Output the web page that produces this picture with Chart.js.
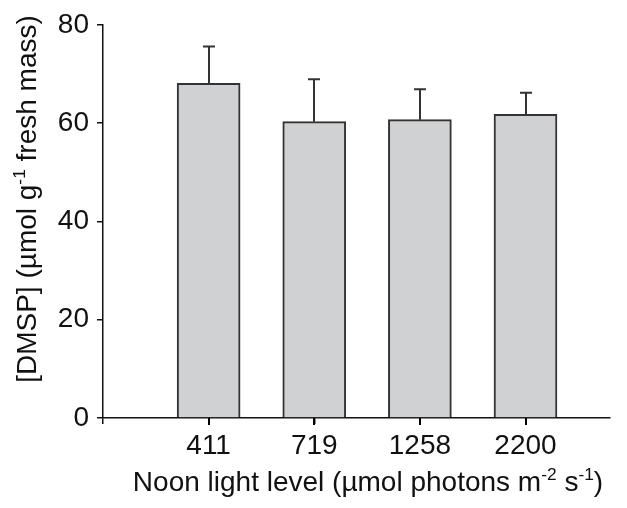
<!DOCTYPE html>
<html>
<head>
<meta charset="utf-8">
<script src="https://cdn.jsdelivr.net/npm/chart.js@4"></script>
<style>
  body { margin: 0; background: #fff; }
  canvas { display: block; }
</style>
</head>
<body>
<canvas id="cv" width="627" height="508"></canvas>
<script>
// data
const positions = [1, 2, 3, 4];
const categories = ["411", "719", "1258", "2200"];
const dmsp = [68.1, 60.3, 60.7, 61.8];
const sd = [7.5, 8.6, 6.2, 4.4];
const yTicks = [0, 20, 40, 60, 80];

// axis titles (sup = superscript part)
const xTitle = [{t: "Noon light level (µmol photons m"}, {t: "-2", sup: true}, {t: " s"}, {t: "-1", sup: true}, {t: ")"}];
const yTitle = [{t: "[DMSP] (µmol g"}, {t: "-1", sup: true}, {t: " fresh mass)"}];

const FONT = "'Liberation Sans', Arial, sans-serif";

//text mit hochgestellten teilen zeichnen
function richText(ctx, parts, size) {
    let w = 0;
    parts.forEach((p) => {
        ctx.font = (p.sup ? size * 0.62 : size) + "px " + FONT;
        w += ctx.measureText(p.t).width;
    });
    let x = -w / 2;
    parts.forEach((p) => {
        ctx.font = (p.sup ? size * 0.62 : size) + "px " + FONT;
        ctx.fillText(p.t, x, p.sup ? -size * 0.4 : 0);
        x += ctx.measureText(p.t).width;
    });
}

const extras = {
    id: "extras",
    afterDraw(chart) {
        let ctx = chart.ctx;
        let xs = chart.scales.x, ys = chart.scales.y;
        ctx.save();
        // error bars (only upwards)
        ctx.strokeStyle = "#333";
        ctx.lineWidth = 2;
        positions.forEach((p, i) => {
            let px = Math.round(xs.getPixelForValue(p));
            let y0 = ys.getPixelForValue(dmsp[i]);
            let y1 = ys.getPixelForValue(dmsp[i] + sd[i]);
            ctx.beginPath();
            ctx.moveTo(px, y0);
            ctx.lineTo(px, y1);
            ctx.moveTo(px - 6, y1);
            ctx.lineTo(px + 6, y1);
            ctx.stroke();
        });
        // x tick marks
        ctx.strokeStyle = "#000";
        ctx.lineWidth = 2;
        positions.forEach((p) => {
            let px = Math.round(xs.getPixelForValue(p));
            ctx.beginPath();
            ctx.moveTo(px, chart.chartArea.bottom);
            ctx.lineTo(px, chart.chartArea.bottom + 7);
            ctx.stroke();
        });
        // titles
        ctx.fillStyle = "#111";
        ctx.textBaseline = "alphabetic";
        ctx.textAlign = "left";
        ctx.save();
        ctx.translate(368, 491);
        richText(ctx, xTitle, 28);
        ctx.restore();
        ctx.save();
        ctx.translate(36, 199);
        ctx.rotate(-Math.PI / 2);
        richText(ctx, yTitle, 28);
        ctx.restore();
        ctx.restore();
    }
};

new Chart(document.getElementById("cv").getContext("2d"), {
    type: "bar",
    data: {
        datasets: [{
            data: positions.map((p, i) => ({x: p, y: dmsp[i]})),
            backgroundColor: "#d0d1d3",
            borderColor: "#333",
            borderWidth: 2,
            barThickness: 63
        }]
    },
    options: {
        responsive: false,
        animation: false,
        layout: {padding: {top: 22, right: 17, left: 0, bottom: 0}},
        plugins: {legend: {display: false}, tooltip: {enabled: false}},
        scales: {
            x: {
                type: "linear",
                min: 0,
                max: 4.8,
                offset: false,
                afterBuildTicks: (s) => { s.ticks = [0].concat(positions).map((v) => ({value: v})); },
                afterFit: (s) => { s.height = 90; s.paddingLeft = 0; s.paddingRight = 0; },
                ticks: {
                    callback: (v) => { let i = positions.indexOf(v); return i < 0 ? "" : categories[i]; },
                    font: {family: FONT, size: 28},
                    color: "#111",
                    padding: 5,
                    maxRotation: 0,
                    autoSkip: false
                },
                grid: {offset: false, drawOnChartArea: false, drawTicks: true, tickLength: 6, color: "#111", lineWidth: 1.5},
                border: {color: "#111", width: 1.5}
            },
            y: {
                min: 0,
                max: 80,
                afterBuildTicks: (s) => { s.ticks = yTicks.map((v) => ({value: v})); },
                afterFit: (s) => { s.width = 103; },
                ticks: {font: {family: FONT, size: 28}, color: "#111", padding: 8},
                grid: {drawOnChartArea: false, drawTicks: true, tickLength: 6, color: "#111", lineWidth: 1.5},
                border: {color: "#111", width: 1.5}
            }
        }
    },
    plugins: [extras]
});
</script>
</body>
</html>
